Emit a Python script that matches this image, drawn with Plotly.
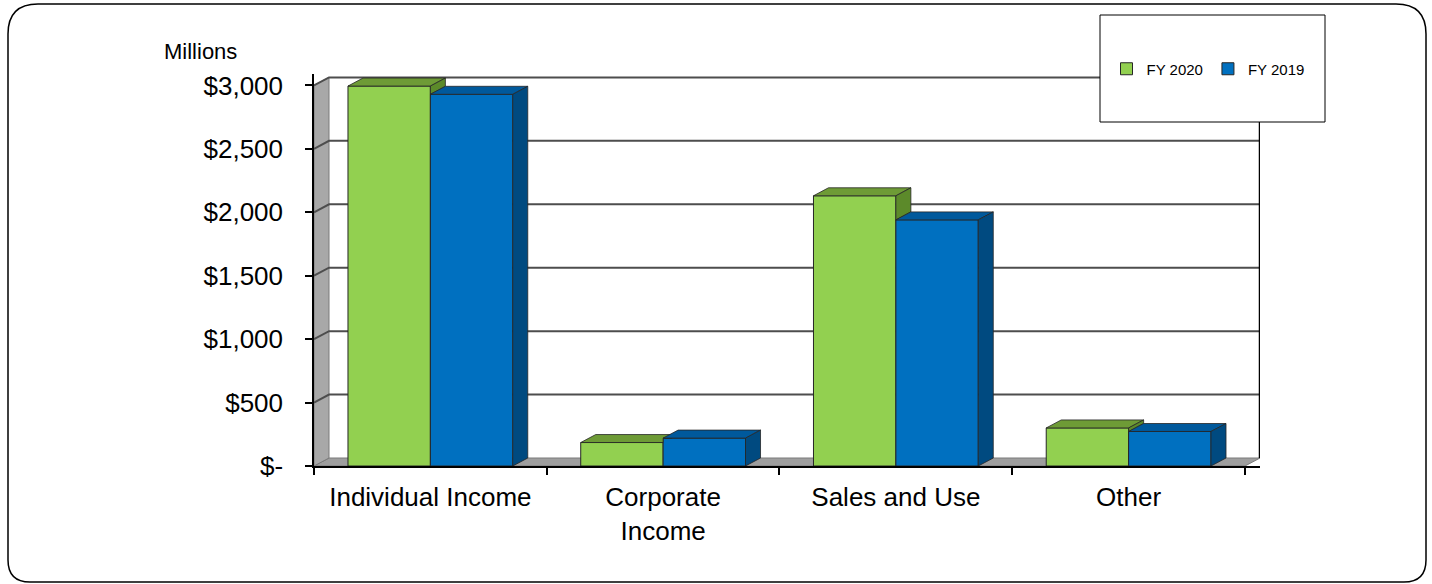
import plotly.graph_objects as go

# ---------------- data ----------------
categories = ["Individual Income", "Corporate<br>Income", "Sales and Use", "Other"]
fy2020 = [2995, 185, 2130, 300]
fy2019 = [2930, 220, 1940, 272]
y_tick_vals = [0, 500, 1000, 1500, 2000, 2500, 3000]
y_tick_text = ["$-", "$500", "$1,000", "$1,500", "$2,000", "$2,500", "$3,000"]
series_names = ["FY 2020", "FY 2019"]

# ---------------- style ----------------
W, H = 1432, 584
L, R, T, B = 314, 1260, 74, 466          # plot area in px
DX = 0.0645                              # depth offset (x data units)
DY = 63                                  # depth offset (y data units)
BW = 0.354                               # bar width
YMAX = 3090
FONT = "Liberation Sans, Arial, sans-serif"

G_FRONT, G_TOP, G_SIDE = "#92D050", "#6E9B36", "#5C8A2A"
B_FRONT, B_TOP, B_SIDE = "#0070C0", "#00599C", "#004A80"
EDGE = "#262626"

def px(xp):
    return (xp - L) / (R - L)

def py(yp):
    return (B - yp) / (B - T)

fig = go.Figure()

xs = list(range(len(categories)))
fig.add_trace(go.Bar(x=xs, y=fy2020, name=series_names[0], width=BW, offset=-BW,
                     marker=dict(color=G_FRONT, line=dict(color=EDGE, width=1)),
                     hoverinfo="skip"))
fig.add_trace(go.Bar(x=xs, y=fy2019, name=series_names[1], width=BW, offset=0,
                     marker=dict(color=B_FRONT, line=dict(color=EDGE, width=1)),
                     hoverinfo="skip"))

def poly(pts, color):
    xx = [p[0] for p in pts] + [pts[0][0]]
    yy = [p[1] for p in pts] + [pts[0][1]]
    fig.add_trace(go.Scatter(x=xx, y=yy, mode="lines", fill="toself", fillcolor=color,
                             line=dict(color=EDGE, width=0.8), hoverinfo="skip",
                             showlegend=False))

# 3D faces derived from the data
for c, vg, vb in zip(xs, fy2020, fy2019):
    x0, x1, x2 = c - BW, c, c + BW
    if vg >= vb:
        poly([(x0, vg), (x1, vg), (x1 + DX, vg + DY), (x0 + DX, vg + DY)], G_TOP)
        poly([(x1, vb), (x1, vg), (x1 + DX, vg + DY), (x1 + DX, vb + DY)], G_SIDE)
    else:
        a = min(1.0, (vb - vg) / DY)
        yc = min(vb, vg + DY)
        poly([(x0, vg), (x1, vg), (x1, yc), (x1 + a * DX, yc),
              (x1 + DX, vg + DY), (x0 + DX, vg + DY)], G_TOP)
    poly([(x1, vb), (x2, vb), (x2 + DX, vb + DY), (x1 + DX, vb + DY)], B_TOP)
    poly([(x2, 0), (x2, vb), (x2 + DX, vb + DY), (x2 + DX, DY)], B_SIDE)

xl, xr = -0.5, len(categories) - 0.5
shapes = []
# floor
shapes.append(dict(type="path", xref="x", yref="y", layer="below",
                   path=f"M {xl},0 L {xr},0 L {xr+DX},{DY} L {xl+DX},{DY} Z",
                   fillcolor="#9E9E9E", line=dict(color="#7a7a7a", width=1)))
# left wall
shapes.append(dict(type="path", xref="x", yref="y", layer="below",
                   path=f"M {xl},0 L {xl},{y_tick_vals[-1]} L {xl+DX},{y_tick_vals[-1]+DY} L {xl+DX},{DY} Z",
                   fillcolor="#A8A8A8", line=dict(color="#7a7a7a", width=1)))
# gridlines on walls
for v in y_tick_vals[1:]:
    shapes.append(dict(type="path", xref="x", yref="y", layer="below",
                       path=f"M {xl},{v} L {xl+DX},{v+DY} L {xr+DX},{v+DY}",
                       line=dict(color="#4d4d4d", width=2)))
# right wall edge
shapes.append(dict(type="line", xref="x", yref="y", layer="below",
                   x0=xr + DX, x1=xr + DX, y0=DY, y1=y_tick_vals[-1] + DY,
                   line=dict(color="black", width=2.5)))
# legend box
shapes.append(dict(type="rect", xref="paper", yref="paper", layer="above",
                   x0=px(1100), x1=px(1325), y0=py(122), y1=py(15),
                   fillcolor="white", line=dict(color="black", width=1)))
# outer rounded border
lft, rgt, top, bot = 8, 1426, 4, 582
rt, rb = 30, 22
path = (f"M {px(lft+rt)},{py(top)} L {px(rgt-rt)},{py(top)} "
        f"Q {px(rgt)},{py(top)} {px(rgt)},{py(top+rt)} "
        f"L {px(rgt)},{py(bot-rb)} Q {px(rgt)},{py(bot)} {px(rgt-rb)},{py(bot)} "
        f"L {px(lft+rb)},{py(bot)} Q {px(lft)},{py(bot)} {px(lft)},{py(bot-rb)} "
        f"L {px(lft)},{py(top+rt)} Q {px(lft)},{py(top)} {px(lft+rt)},{py(top)} Z")
shapes.append(dict(type="path", xref="paper", yref="paper", layer="above",
                   path=path, line=dict(color="black", width=1.5)))

fig.update_layout(
    width=W, height=H,
    margin=dict(l=L, r=W - R, t=T, b=H - B, pad=0),
    paper_bgcolor="white", plot_bgcolor="white",
    barmode="overlay",
    font=dict(family=FONT, color="black"),
    shapes=shapes,
    showlegend=True,
    legend=dict(orientation="h", x=px(1208), y=py(69), xanchor="center", yanchor="middle",
                bgcolor="rgba(0,0,0,0)", font=dict(size=15, family=FONT),
                traceorder="normal"),
    annotations=[dict(text="Millions", xref="paper", yref="paper", x=px(200), y=py(51),
                      showarrow=False, font=dict(size=22, family=FONT),
                      xanchor="center", yanchor="middle")],
    xaxis=dict(range=[xl, xr + DX], tickvals=xs, ticktext=categories, ticks="",
               showgrid=False, zeroline=False, showline=True, linecolor="black", linewidth=2,
               tickfont=dict(size=26, family=FONT), ticklabelstandoff=7,
               minor=dict(tickmode="linear", tick0=xl, dtick=1, ticks="outside",
                          ticklen=7, tickcolor="black", tickwidth=1.5, showgrid=False)),
    yaxis=dict(range=[0, YMAX], tickvals=y_tick_vals, ticktext=y_tick_text,
               ticks="outside", ticklen=7, tickcolor="black", tickwidth=1.5,
               showgrid=False, zeroline=False, showline=True, linecolor="black", linewidth=1.5,
               tickfont=dict(size=26, family=FONT), ticklabelstandoff=17),
)

fig.write_html("out.html", config={"displayModeBar": False},
               post_script="document.body.style.margin='0px';document.body.style.overflow='hidden';")
